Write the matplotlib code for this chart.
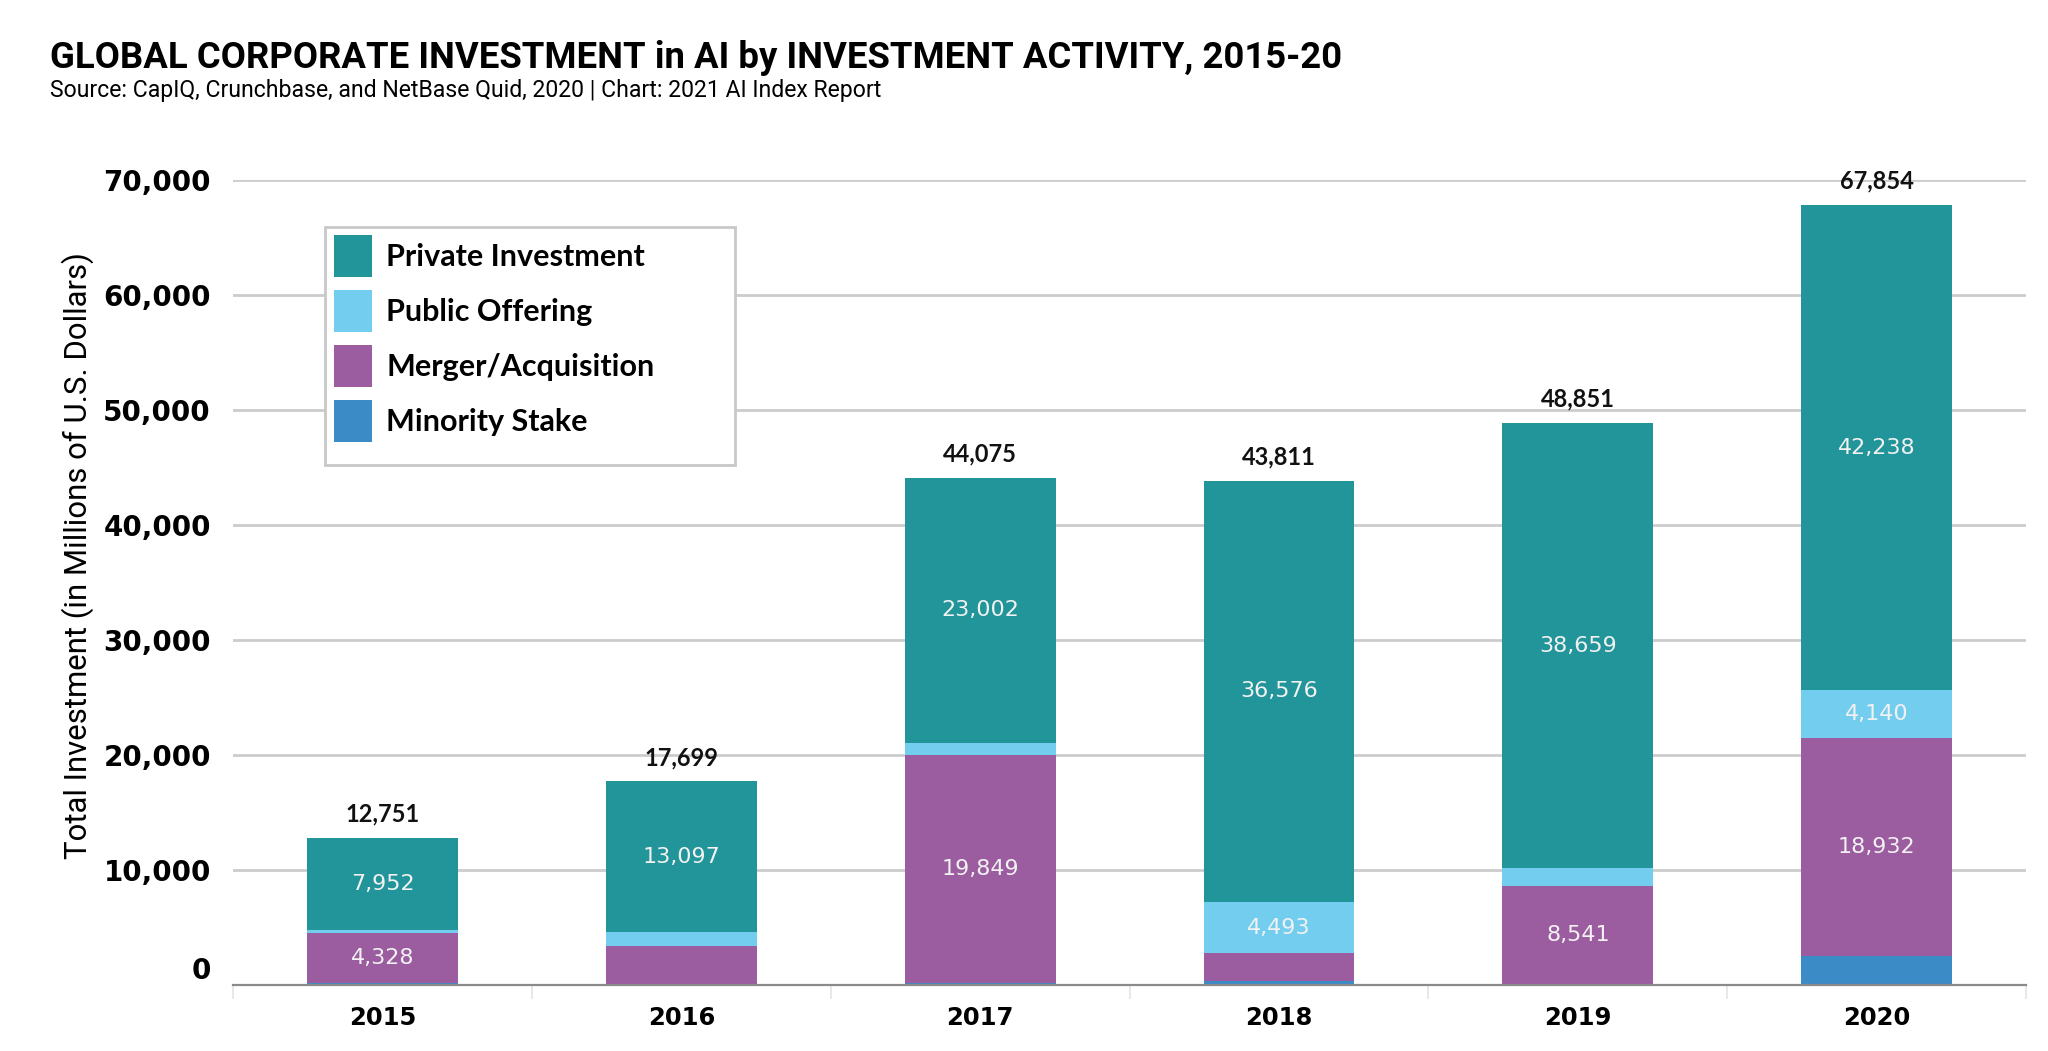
import numpy as np
import matplotlib.pyplot as plt
from matplotlib.patches import Rectangle
from matplotlib.ticker import FuncFormatter, FixedLocator
from matplotlib.transforms import ScaledTranslation

# values in millions of USD
years = ['2015', '2016', '2017', '2018', '2019', '2020']
minority = [170, 100, 174, 362, 51, 2544]
merger = [4328, 3300, 19849, 2380, 8541, 18932]
public = [301, 1202, 1050, 4493, 1600, 4140]
private = [7952, 13097, 23002, 36576, 38659, 42238]
totals = [12751, 17699, 44075, 43811, 48851, 67854]

names = ['Minority Stake', 'Merger/Acquisition', 'Public Offering', 'Private Investment']
colors = ['#3a8bc6', '#9b5da0', '#73cdee', '#22959a']
narrow = ['Liberation Sans Narrow', 'Roboto']

fig = plt.figure(figsize=(20.48, 10.51), dpi=100)
ax = fig.add_axes([0.1138, 0.0628, 0.8755, 0.7659])

x = np.arange(len(years))
bottom = np.zeros(len(years))
bars = {}
for name, vals, col in zip(names, [minority, merger, public, private], colors):
    vals = np.array(vals, dtype=float)
    bars[name] = ax.bar(x, vals, 0.505, bottom=bottom, color=col, label=name,
                        linewidth=0, zorder=3)
    # value labels inside the bigger segments
    for xi, b, v in zip(x, bottom, vals):
        if v >= 4000:
            ax.text(xi, b + v / 2, f'{int(v):,}', ha='center', va='center',
                    color='#f2f2f2', fontsize=16, family='DejaVu Sans', zorder=4)
    bottom += vals

for xi, t in zip(x, totals):
    ax.annotate(f'{t:,}', (xi, bottom[xi]), xytext=(0, 9), textcoords='offset points',
                ha='center', va='bottom', fontsize=17, color='#111111',
                family='Lato', fontweight='bold', annotation_clip=False, zorder=4)

ax.set_xlim(-0.5, 5.5)
ax.set_ylim(0, 70000)
ax.yaxis.set_major_locator(FixedLocator(range(0, 70001, 10000)))
ax.yaxis.set_major_formatter(FuncFormatter(lambda v, p: f'{int(v):,}'))
ax.grid(axis='y', color='#cccccc', linewidth=2, zorder=0)
ax.set_axisbelow(True)

for s in ['top', 'right', 'left']:
    ax.spines[s].set_visible(False)
ax.spines['bottom'].set_color('#8a8a8a')
ax.spines['bottom'].set_linewidth(1.6)
ax.spines['bottom'].set_zorder(5)

ax.set_xticks(x)
ax.set_xticklabels(years)
ax.set_xticks(np.arange(-0.5, 5.6, 1), minor=True)
ax.tick_params(axis='x', which='major', length=0, pad=15, labelsize=17.5)
ax.tick_params(axis='x', which='minor', length=10, width=1.5, color='#e8e8e8')
ax.tick_params(axis='y', length=0, pad=16, labelsize=20)
for lab in ax.get_xticklabels():
    lab.set_fontweight('bold')
    lab.set_family('DejaVu Sans')
for lab in ax.get_yticklabels():
    lab.set_fontweight('bold')
    lab.set_family('DejaVu Sans')
zero = ax.get_yticklabels()[0]
zero.set_transform(zero.get_transform() + ScaledTranslation(0, 12 / 72, fig.dpi_scale_trans))

ax.set_ylabel('Total Investment (in Millions of U.S. Dollars)', fontsize=22.4, family=narrow)
ax.yaxis.set_label_coords(-0.0775, 0.533)

# legend box drawn separately so it can keep the empty space at the bottom
ax.add_patch(Rectangle((0.0513, 0.646), 0.2287, 0.2956, transform=ax.transAxes,
                       facecolor='white', edgecolor='#c8c8c8', linewidth=2,
                       zorder=6, clip_on=False))
handles = [bars[n] for n in names[::-1]]
leg = ax.legend(handles, names[::-1], loc='upper left', bbox_to_anchor=(0.0565, 0.932),
                fontsize=22, frameon=False, borderpad=0,
                handlelength=1.24, handleheight=1.75, labelspacing=0.42,
                handletextpad=0.45, borderaxespad=0)
leg.set_zorder(7)
for t in leg.get_texts():
    t.set_family('Lato')
    t.set_fontweight('bold')

fig.text(0.0245, 0.962, 'GLOBAL CORPORATE INVESTMENT in AI by INVESTMENT ACTIVITY, 2015-20',
         fontsize=26.3, fontweight='bold', family=narrow, va='top')
fig.text(0.0245, 0.925, 'Source: CapIQ, Crunchbase, and NetBase Quid, 2020 | Chart: 2021 AI Index Report',
         fontsize=16.6, family=narrow, va='top')

fig.savefig('out.png', dpi=100)
